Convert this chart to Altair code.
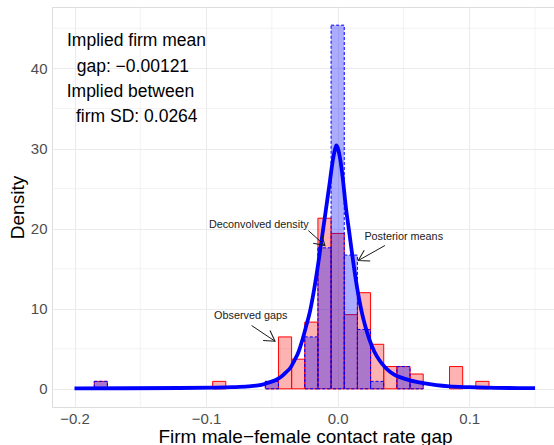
import altair as alt
import pandas as pd

# Histogram bins (centres, width 0.01) and densities
bin_centers = [-0.18, -0.09, -0.05, -0.04, -0.03, -0.02, -0.01, 0.0,
               0.01, 0.02, 0.03, 0.04, 0.05, 0.06, 0.09, 0.11]
observed_density = [0.93, 0.93, 0.93, 6.48, 3.70, 8.33, 21.3, 19.4,
                    9.26, 12.0, 5.56, 2.78, 2.78, 1.85, 2.78, 0.93]
posterior_density = [0.93, 0.0, 0.93, 0.0, 0.0, 6.48, 17.6, 45.4,
                     16.7, 7.41, 0.93, 0.0, 2.78, 0.93, 0.0, 0.0]
bin_width = 0.01

# Deconvolved density curve
curve_x = [-0.200, -0.160, -0.120, -0.095, -0.080, -0.068, -0.058, -0.052,
           -0.047, -0.043, -0.039, -0.036, -0.033, -0.030, -0.027, -0.024,
           -0.021, -0.018, -0.015, -0.012, -0.009, -0.006, -0.004, -0.002,
           -0.001, 0.000, 0.002, 0.004, 0.006, 0.009, 0.012, 0.015,
           0.018, 0.021, 0.024, 0.028, 0.032, 0.036, 0.040, 0.045,
           0.050, 0.055, 0.065, 0.075, 0.085, 0.100, 0.120, 0.150]
curve_y = [0.05, 0.07, 0.10, 0.14, 0.20, 0.30, 0.50, 0.80,
           1.10, 1.50, 2.10, 2.60, 3.50, 4.50, 6.00, 7.80,
           9.70, 12.3, 15.4, 18.8, 22.3, 25.8, 28.2, 29.9,
           30.4, 30.1, 28.6, 26.1, 23.0, 19.3, 15.6, 12.4,
           9.80, 7.80, 6.20, 4.60, 3.50, 2.70, 2.10, 1.60,
           1.30, 1.05, 0.70, 0.45, 0.30, 0.20, 0.12, 0.08]

x_ticks = [-0.2, -0.1, 0.0, 0.1]
x_minor = [-0.15, -0.05, 0.05, 0.15]
y_ticks = [0, 10, 20, 30, 40]
y_minor = [5, 15, 25, 35, 45]

FONT = "Liberation Sans"
W, H = 502, 400
x_scale = alt.Scale(domain=[-0.2171, 0.1644], nice=False, zero=False)
y_scale = alt.Scale(domain=[-2.27, 47.67], nice=False, zero=False)


def bars(values):
    df = pd.DataFrame({"c": bin_centers, "d": values})
    df = df[df["d"] > 0].copy()
    df["x0"] = df["c"] - bin_width / 2
    df["x1"] = df["c"] + bin_width / 2
    df["base"] = 0.0
    return df


x_axis = alt.Axis(values=x_ticks, format=".1f", grid=True, gridColor="#EBEBEB",
                  gridWidth=1.1, domain=False, ticks=False, labelFontSize=15,
                  labelColor="#4D4D4D", labelFont=FONT, labelPadding=4,
                  title="Firm male\u2212female contact rate gap", titleFontSize=19,
                  titleFont=FONT, titleFontWeight="normal", titleColor="black",
                  titlePadding=1, titleX=253)
y_axis = alt.Axis(values=y_ticks, format="d", grid=True, gridColor="#EBEBEB",
                  gridWidth=1.1, domain=False, ticks=False, labelFontSize=15,
                  labelColor="#4D4D4D", labelFont=FONT, labelPadding=5,
                  title="Density", titleFontSize=19, titleFont=FONT,
                  titleFontWeight="normal", titleColor="black", titlePadding=3)

minor_v = alt.Chart(pd.DataFrame({"v": x_minor})).mark_rule(
    color="#EBEBEB", strokeWidth=0.6
).encode(x=alt.X("v:Q", scale=x_scale, axis=x_axis), y=alt.value(0), y2=alt.value(H))

minor_h = alt.Chart(pd.DataFrame({"v": y_minor})).mark_rule(
    color="#EBEBEB", strokeWidth=0.6
).encode(y=alt.Y("v:Q", scale=y_scale, axis=y_axis), x=alt.value(0), x2=alt.value(W))

observed = alt.Chart(bars(observed_density)).mark_bar(
    fill="red", fillOpacity=0.3, stroke="red", strokeWidth=1
).encode(x=alt.X("x0:Q", scale=x_scale), x2="x1:Q",
         y=alt.Y("d:Q", scale=y_scale), y2="base:Q")

posterior = alt.Chart(bars(posterior_density)).mark_bar(
    fill="blue", fillOpacity=0.33, stroke="blue", strokeWidth=1, strokeDash=[3, 2]
).encode(x=alt.X("x0:Q", scale=x_scale), x2="x1:Q",
         y=alt.Y("d:Q", scale=y_scale), y2="base:Q")

curve = alt.Chart(pd.DataFrame({"x": curve_x, "y": curve_y})).mark_line(
    color="blue", strokeWidth=3.8, interpolate="monotone"
).encode(x=alt.X("x:Q", scale=x_scale), y=alt.Y("y:Q", scale=y_scale))

one = pd.DataFrame({"k": [0]})

# Summary text in the upper-left corner
summary_lines = [("Implied firm mean", 15, 38.7),
                 ("gap: \u22120.00121", 24.7, 64.7),
                 ("Implied between", 14.7, 89.7),
                 ("firm SD: 0.0264", 24, 114.7)]
summary = [
    alt.Chart(one).mark_text(text=t, align="left", baseline="alphabetic",
                             fontSize=17.5, font=FONT, color="black")
    .encode(x=alt.value(px), y=alt.value(py))
    for t, px, py in summary_lines
]

# Labelled arrows
labels = [("Deconvolved density", -0.060, 20.45),
          ("Posterior means", 0.0502, 18.9),
          ("Observed gaps", -0.0661, 9.03)]
arrows = [(-0.0223, 19.76, -0.00965, 17.89, 42),
          (0.0359, 17.89, 0.01565, 16.02, 151),
          (-0.0654, 7.90, -0.0476, 5.94, 34)]

label_layers = [
    alt.Chart(one).mark_text(text=t, align="center", baseline="middle",
                             fontSize=10.8, font=FONT, color="#1a1a1a")
    .encode(x=alt.datum(lx, scale=x_scale), y=alt.datum(ly, scale=y_scale))
    for t, lx, ly in labels
]
arrow_layers = []
for x0, y0, x1, y1, ang in arrows:
    arrow_layers.append(
        alt.Chart(one).mark_rule(color="#1a1a1a", strokeWidth=1)
        .encode(x=alt.datum(x0), y=alt.datum(y0), x2=alt.datum(x1), y2=alt.datum(y1))
    )
    arrow_layers.append(
        alt.Chart(one).mark_point(shape="M -1 -0.6 L 0 0 L -1 0.6", filled=False,
                                  color="#1a1a1a", strokeWidth=1, size=420,
                                  angle=ang, opacity=1)
        .encode(x=alt.datum(x1), y=alt.datum(y1))
    )

chart = alt.layer(
    minor_v, minor_h, observed, posterior, curve,
    *summary, *label_layers, *arrow_layers
).properties(
    width=W, height=H,
    autosize=alt.AutoSizeParams(type="none"),
    padding={"left": 52, "top": 7, "right": 0, "bottom": 38},
).configure_view(stroke=None).configure(background="white")

chart.save("out.html", embed_options={"renderer": "svg", "actions": False})
